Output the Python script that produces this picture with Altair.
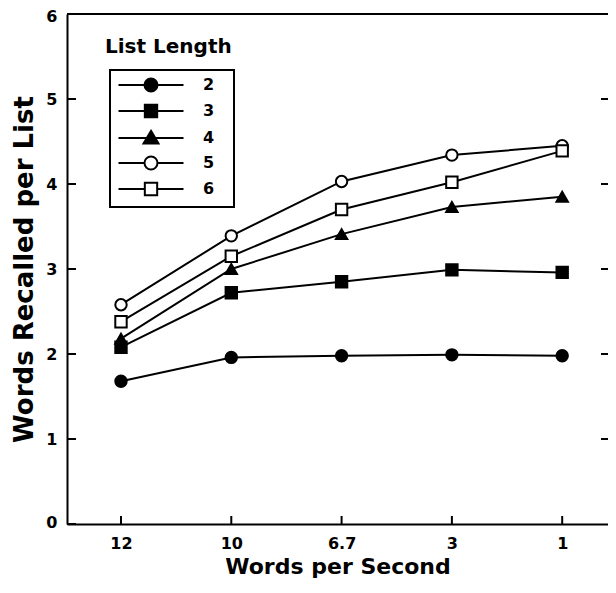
import altair as alt
import pandas as pd

# ---- data ----
rates = ["12", "10", "6.7", "3", "1"]
list_lengths = ["2", "3", "4", "5", "6"]
recall_2 = [1.68, 1.96, 1.98, 1.99, 1.98]
recall_3 = [2.08, 2.72, 2.85, 2.99, 2.96]
recall_4 = [2.18, 3.00, 3.41, 3.73, 3.85]
recall_5 = [2.58, 3.39, 4.03, 4.34, 4.45]
recall_6 = [2.38, 3.15, 3.70, 4.02, 4.39]
y_ticks = [0, 1, 2, 3, 4, 5, 6]
right_ticks = [1, 2, 3, 4, 5]

marker_shapes = ["circle", "square", "triangle-up", "circle", "square"]
marker_fills = ["black", "black", "black", "white", "white"]
marker_strokes = ["black", "black", "black", "black", "black"]
# legend glyphs: a short line with the marker in its middle
legend_paths = [
    "M-5,0H5M1,0A1,1 0 1,1 -1,0A1,1 0 1,1 1,0Z",
    "M-5,0H5M-0.95,-0.95H0.95V0.95H-0.95Z",
    "M-5,0H5M0,-1.1L1.15,0.85H-1.15Z",
    "M-5,0H-1M1,0H5M1,0A1,1 0 1,1 -1,0A1,1 0 1,1 1,0Z",
    "M-5,0H-0.95M0.95,0H5M-0.95,-0.95H0.95V0.95H-0.95Z",
]

series = [recall_2, recall_3, recall_4, recall_5, recall_6]
rows = []
for ll, vals in zip(list_lengths, series):
    for r, v in zip(rates, vals):
        rows.append({"rate": r, "recall": v, "length": ll})
df = pd.DataFrame(rows)

W, H = 541, 510
FONT = "DejaVu Sans"

x_enc = alt.X(
    "rate:N",
    sort=rates,
    scale=alt.Scale(type="point", padding=0.4524, align=0.541),
    axis=alt.Axis(
        title="Words per Second",
        labelAngle=0,
        ticks=False,
        tickSize=0,
        labelPadding=11,
        titlePadding=5,
        titleFontSize=22,
        domainWidth=2,
        domainColor="black",
        grid=False,
    ),
)
y_enc = alt.Y(
    "recall:Q",
    scale=alt.Scale(domain=[0, 6], nice=False),
    axis=alt.Axis(
        title="Words Recalled per List",
        values=y_ticks,
        format="d",
        ticks=False,
        tickSize=0,
        labelPadding=10,
        labelFlush=True,
        labelFlushOffset=6,
        titlePadding=8,
        titleFontSize=26,
        domainWidth=2,
        domainColor="black",
        grid=False,
    ),
)

base = alt.Chart(df)

lines = base.mark_line(color="black", strokeWidth=2).encode(
    x=x_enc, y=y_enc, detail="length:N"
)

points = base.mark_point(
    filled=True, stroke="black", strokeWidth=2, size=130, opacity=1
).encode(
    x=x_enc,
    y=y_enc,
    shape=alt.Shape(
        "length:N",
        scale=alt.Scale(domain=list_lengths, range=marker_shapes),
        legend=None,
    ),
    fill=alt.Fill(
        "length:N",
        scale=alt.Scale(domain=list_lengths, range=marker_fills),
        legend=None,
    ),
)

tick_df = pd.DataFrame({"recall": y_ticks})
left_ticks = alt.Chart(tick_df).mark_rule(color="black", strokeWidth=2).encode(
    y=alt.Y("recall:Q"), x=alt.value(0), x2=alt.value(9)
)
right_df = pd.DataFrame({"recall": right_ticks})
right_tick_marks = alt.Chart(right_df).mark_rule(color="black", strokeWidth=2).encode(
    y=alt.Y("recall:Q"), x=alt.value(W - 7), x2=alt.value(W)
)
xt_df = pd.DataFrame({"rate": rates})
bottom_ticks = alt.Chart(xt_df).mark_rule(color="black", strokeWidth=2).encode(
    x=alt.X("rate:N", sort=rates), y=alt.value(H), y2=alt.value(H - 8)
)
top_line = alt.Chart(alt.Data(values=[{"a": 1}])).mark_rule(
    color="black", strokeWidth=2
).encode(y=alt.value(0), x=alt.value(0), x2=alt.value(W))

legend_spec = alt.Legend(
    title=None,
    orient="none",
    legendX=43,
    legendY=56,
    padding=7,
    labelFont=FONT,
    labelFontSize=16,
    labelFontWeight="bold",
    labelColor="black",
    labelOffset=44,
    labelExpr="datum.label + '\u2800'",
    rowPadding=4,
    symbolSize=169,
    symbolOffset=26,
    symbolStrokeWidth=2,
    strokeColor="black",
)
legend_layer = (
    alt.Chart(df)
    .transform_filter("false")
    .mark_point(filled=True, strokeWidth=2, size=169, opacity=1)
    .encode(
        shape=alt.Shape(
            "length:N",
            scale=alt.Scale(domain=list_lengths, range=legend_paths),
            legend=legend_spec,
        ),
        fill=alt.Fill(
            "length:N",
            scale=alt.Scale(domain=list_lengths, range=marker_fills),
            legend=legend_spec,
        ),
        stroke=alt.Stroke(
            "length:N",
            scale=alt.Scale(domain=list_lengths, range=marker_strokes),
            legend=legend_spec,
        ),
    )
)

chart = (
    alt.layer(lines, points, left_ticks, right_tick_marks, bottom_ticks, top_line, legend_layer)
    .resolve_scale(shape="independent", fill="independent", stroke="independent")
    .properties(
        width=W,
        height=H,
        autosize="none",
        padding={"left": 59, "top": 6, "right": 0, "bottom": 57},
        background="white",
        title=alt.TitleParams(
            text="List Length",
            anchor="start",
            frame="group",
            orient="top",
            dx=38,
            dy=53,
            font=FONT,
            fontSize=20,
            fontWeight="bold",
            color="black",
        ),
    )
    .configure_view(stroke=None)
    .configure_axis(
        labelFont=FONT,
        labelFontSize=16,
        labelFontWeight="bold",
        labelColor="black",
        titleFont=FONT,
        titleFontWeight="bold",
        titleColor="black",
    )
    .configure_legend(strokeWidth=2)
)

chart.save("out.html", embed_options={"renderer": "svg", "actions": False})
